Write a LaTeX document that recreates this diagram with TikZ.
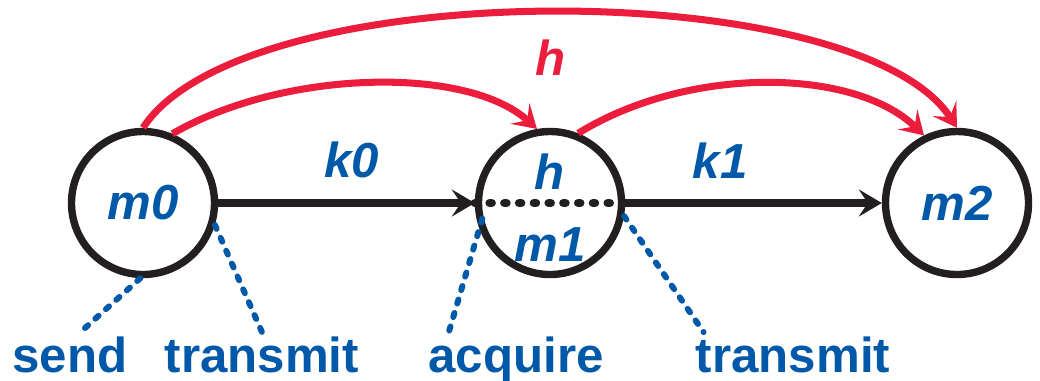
\documentclass[tikz,border=0pt]{standalone}
\usepackage{fontspec}
\setmainfont{Liberation Sans}
\usepackage{xcolor}
\usepackage{tikz}
\usetikzlibrary{arrows.meta, positioning}

\definecolor{lockred}{RGB}{236,28,60}
\definecolor{lockblue}{RGB}{0,88,168}
\definecolor{ink}{RGB}{35,31,32}

\begin{document}
\begin{tikzpicture}[
        node distance=4.07cm,
        state/.style={circle, draw=ink, line width=2.1pt, minimum size=1.43cm, inner sep=0pt, text=lockblue, font=\fontsize{14}{16}\selectfont\bfseries\itshape},
        lbl/.style={text=lockblue, font=\fontsize{14}{16}\selectfont\bfseries\itshape, inner sep=0pt},
        ann/.style={text=lockblue, font=\fontsize{14}{16}\selectfont\bfseries, inner sep=1pt, anchor=base},
        flow/.style={-{Stealth[length=0.23cm, width=0.27cm, inset=0.09cm]}, draw=ink, line width=2pt},
        hb/.style={-{Stealth[length=0.23cm, width=0.28cm, inset=0.1cm]}, draw=lockred, line width=2pt},
        tag/.style={draw=lockblue, line width=1.7pt, line cap=round, dash pattern=on 1.2pt off 2.8pt},
        mid/.style={draw=ink, line width=2.4pt, line cap=round, dash pattern=on 0.6pt off 3.6pt}
    ]
    \useasboundingbox (0,0) rectangle (10.4,3.8);

    % message nodes
    \node[state] (m0) at (1.43,1.77) {m0};
    \node[state, on grid, right=of m0] (m1) {};
    \node[state, on grid, right=of m1] (m2) {m2};
    \node[lbl, on grid, above=0.31cm of m1] (hin) {h};
    \node[lbl, on grid, below=0.42cm of m1] (m1txt) {m1};

    \draw[mid] (m1.west) -- (m1.east);
    \draw[flow] (m0) -- node[lbl, above=6pt, pos=.52] (k0) {k0} (m1);
    \draw[flow] (m1) -- node[lbl, above=6pt, pos=.37] (k1) {k1} (m2);

    % hash links
    \node[lbl, text=lockred] (hred) at (5.51,3.22) {h};
    \draw[hb] (m0.north) .. controls +(1.0,1.54) and +(-1.0,1.54) .. (m2.north);
    \draw[hb] (m0.67) .. controls +(1.1,0.64) and +(-0.7,0.64) .. (m1.100);
    \draw[hb] (m1.68) .. controls +(1.1,0.68) and +(-0.7,0.68) .. (m2.116);

    % operations
    \node[ann] (send) at (0.70,0.08) {send};
    \node[ann] (tx0) at (2.62,0.08) {transmit};
    \node[ann] (acq) at (5.16,0.08) {acquire};
    \node[ann] (tx1) at (7.93,0.08) {transmit};

    \draw[tag] (m0.268) -- (send.65);
    \draw[tag] (m0.343) -- (tx0.north);
    \draw[tag, shorten <=-3pt] (m1.200) -- (acq.158);
    \draw[tag] (m1.350) -- (tx1.166);
\end{tikzpicture}
\end{document}
